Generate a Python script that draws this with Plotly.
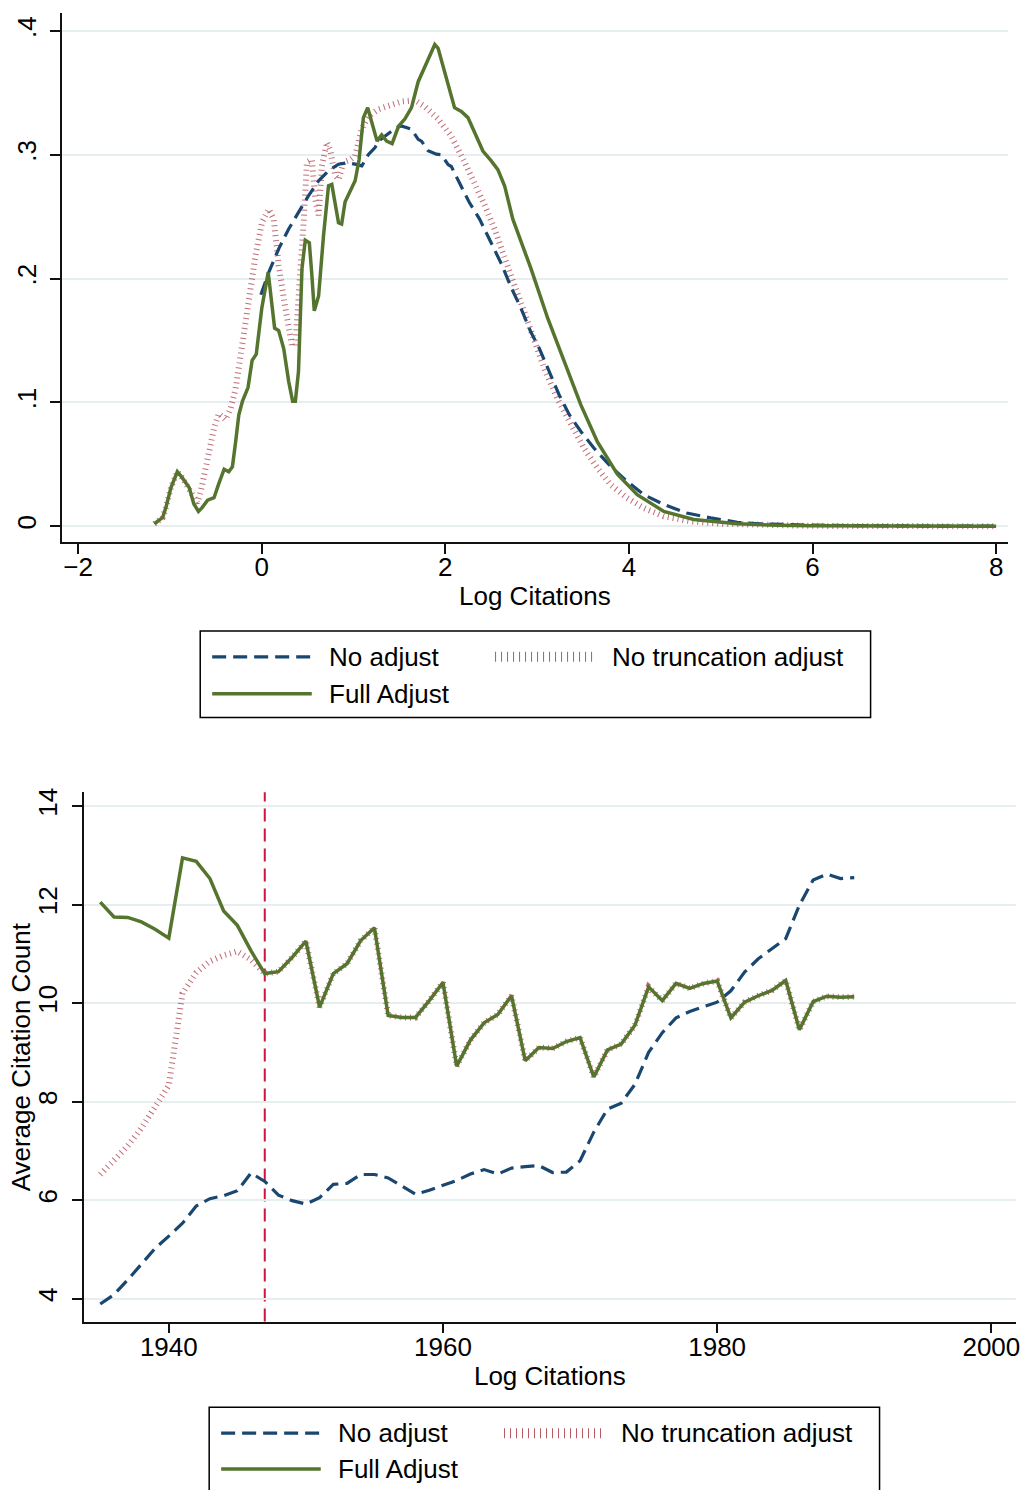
import plotly.graph_objects as go

# ---------------- Top panel: density of log citations ----------------
noadj_x = [-0.01, 0.076, 0.184, 0.293, 0.40, 0.51, 0.619, 0.727, 0.836, 0.93, 1.017, 1.09,
           1.16, 1.234, 1.27, 1.342, 1.414, 1.468, 1.52, 1.56, 1.63, 1.704, 1.74, 1.812,
           1.902, 1.957, 2.03, 2.065, 2.15, 2.26, 2.373, 2.39, 2.50, 2.61, 2.716, 2.825,
           2.93, 3.024, 3.133, 3.24, 3.35, 3.476, 3.62, 3.80, 3.98, 4.16, 4.38, 4.63,
           4.89, 5.18, 5.43, 6.0, 7.0, 8.0]
noadj_y = [0.187, 0.205, 0.224, 0.240, 0.2535, 0.267, 0.279, 0.287, 0.2924, 0.2935, 0.2924, 0.291,
           0.300, 0.3058, 0.311, 0.3152, 0.319, 0.322, 0.3233, 0.3225, 0.3206, 0.3125, 0.311, 0.3032,
           0.3005, 0.300, 0.292, 0.2905, 0.278, 0.2616, 0.248, 0.2455, 0.228, 0.212, 0.193, 0.1757,
           0.157, 0.1435, 0.1247, 0.106, 0.090, 0.0765, 0.063, 0.0483, 0.0362, 0.0255, 0.0175, 0.0107,
           0.0067, 0.0032, 0.0019, 0.0008, 0.0002, 0.0]

notrunc_x = [-1.17, -1.08, -1.045, -0.99, -0.92, -0.865, -0.756, -0.70, -0.665, -0.63, -0.593,
             -0.557, -0.521, -0.467, -0.395, -0.34, -0.285, -0.214, -0.141, -0.068, 0.003, 0.076,
             0.13, 0.184, 0.257, 0.329, 0.366, 0.42, 0.456, 0.492, 0.546, 0.583, 0.619, 0.655,
             0.709, 0.745, 0.80, 0.836, 0.89, 0.963, 1.017, 1.089, 1.16, 1.27, 1.378, 1.52,
             1.668, 1.776, 1.92, 2.065, 2.21, 2.355, 2.43, 2.536, 2.645, 2.753, 2.86, 2.97,
             3.08, 3.22, 3.37, 3.51, 3.657, 3.80, 3.98, 4.16, 4.38, 4.67, 5.03, 5.5, 6.0, 7.0, 8.0]
notrunc_y = [0.002, 0.007, 0.015, 0.031, 0.044, 0.039, 0.0255, 0.0188, 0.028, 0.039, 0.053,
             0.066, 0.079, 0.091, 0.086, 0.095, 0.111, 0.149, 0.184, 0.2187, 0.2455, 0.256,
             0.248, 0.2106, 0.176, 0.146, 0.146, 0.197, 0.2455, 0.294, 0.296, 0.264, 0.251, 0.291,
             0.310, 0.304, 0.283, 0.280, 0.294, 0.296, 0.299, 0.3206, 0.331, 0.3367, 0.339, 0.343,
             0.344, 0.339, 0.329, 0.315, 0.294, 0.272, 0.259, 0.240, 0.216, 0.1945, 0.173, 0.149,
             0.127, 0.103, 0.082, 0.063, 0.047, 0.0335, 0.0228, 0.0147, 0.008, 0.004, 0.0019, 0.0007,
             0.0003, 0.0001, 0.0]

full_x = [-1.17, -1.08, -1.045, -0.99, -0.92, -0.865, -0.79, -0.74, -0.69, -0.65, -0.59, -0.52,
          -0.47, -0.41, -0.36, -0.32, -0.285, -0.25, -0.21, -0.15, -0.105, -0.06, 0.0, 0.07,
          0.14, 0.184, 0.239, 0.293, 0.336, 0.366, 0.40, 0.438, 0.474, 0.518, 0.546, 0.572,
          0.619, 0.673, 0.727, 0.763, 0.836, 0.87, 0.908, 0.944, 1.017, 1.06, 1.107, 1.154,
          1.197, 1.256, 1.306, 1.36, 1.42, 1.49, 1.56, 1.631, 1.704, 1.758, 1.83, 1.885,
          1.921, 1.975, 2.03, 2.10, 2.174, 2.246, 2.319, 2.409, 2.50, 2.572, 2.645, 2.69,
          2.735, 2.933, 3.115, 3.296, 3.476, 3.657, 3.874, 4.09, 4.38, 4.706, 5.18, 5.61,
          6.0, 7.0, 8.0]
full_y = [0.002, 0.007, 0.015, 0.031, 0.044, 0.039, 0.031, 0.018, 0.012, 0.015, 0.021, 0.023,
          0.034, 0.046, 0.044, 0.048, 0.068, 0.090, 0.101, 0.112, 0.134, 0.139, 0.176, 0.205,
          0.160, 0.158, 0.1435, 0.117, 0.101, 0.101, 0.125, 0.208, 0.231, 0.229, 0.2025, 0.174,
          0.186, 0.235, 0.275, 0.276, 0.245, 0.244, 0.262, 0.268, 0.279, 0.296, 0.330, 0.338,
          0.326, 0.311, 0.316, 0.311, 0.309, 0.323, 0.329, 0.338, 0.359, 0.368, 0.381, 0.389,
          0.386, 0.372, 0.356, 0.338, 0.335, 0.330, 0.318, 0.303, 0.295, 0.288, 0.275, 0.262,
          0.248, 0.208, 0.168, 0.133, 0.098, 0.068, 0.042, 0.0255, 0.012, 0.0054, 0.0019, 0.0008,
          0.0004, 0.0001, 0.0]

top_xticks = [-2, 0, 2, 4, 6, 8]
top_yticks = [0, 0.1, 0.2, 0.3, 0.4]
top_ytick_text = ["0", ".1", ".2", ".3", ".4"]

# ---------------- Bottom panel: average citation count by year ----------------
years = list(range(1935, 1991))
avg_no_adjust = [3.89, 4.08, 4.38, 4.70, 5.02, 5.27, 5.53, 5.88, 6.03, 6.09, 6.19, 6.55,
                 6.38, 6.10, 5.99, 5.92, 6.05, 6.32, 6.34, 6.52, 6.52, 6.45, 6.28, 6.12,
                 6.20, 6.30, 6.40, 6.53, 6.62, 6.53, 6.65, 6.68, 6.70, 6.56, 6.57, 6.80,
                 7.38, 7.85, 7.97, 8.35, 9.00, 9.40, 9.70, 9.83, 9.93, 10.02, 10.25, 10.63,
                 10.90, 11.10, 11.31, 11.99, 12.50, 12.62, 12.53, 12.55]
avg_no_truncation = [6.52, 6.82, 7.10, 7.46, 7.90, 8.33, 10.20, 10.62, 10.85, 10.97, 11.05, 10.88,
                     10.60, 10.64, 10.93, 11.26, 9.92, 10.60, 10.80, 11.27, 11.53, 9.75, 9.71, 9.71,
                     10.05, 10.42, 8.72, 9.25, 9.60, 9.77, 10.15, 8.83, 9.10, 9.08, 9.22, 9.30,
                     8.50, 9.05, 9.17, 9.55, 10.33, 10.05, 10.40, 10.30, 10.40, 10.45, 9.70, 10.02,
                     10.15, 10.26, 10.46, 9.46, 10.03, 10.14, 10.12, 10.13]
avg_full = [12.05, 11.75, 11.74, 11.65, 11.50, 11.32, 12.95, 12.88, 12.53, 11.87, 11.58, 11.06,
            10.60, 10.64, 10.93, 11.26, 9.92, 10.60, 10.80, 11.27, 11.53, 9.75, 9.71, 9.71,
            10.05, 10.42, 8.72, 9.25, 9.60, 9.77, 10.15, 8.83, 9.10, 9.08, 9.22, 9.30,
            8.50, 9.05, 9.17, 9.55, 10.33, 10.05, 10.40, 10.30, 10.40, 10.45, 9.70, 10.02,
            10.15, 10.26, 10.46, 9.46, 10.03, 10.14, 10.12, 10.13]
cutoff_year = 1947

bot_xticks = [1940, 1960, 1980, 2000]
bot_yticks = [4, 6, 8, 10, 12, 14]

series_names = ["No adjust", "No truncation adjust", "Full Adjust"]

# ---------------- styles ----------------
W, H = 1024, 1490
FONT = "Liberation Sans, Arial, sans-serif"
NAVY = "#1a476f"
MAROON = "rgba(165,45,60,0.7)"
GREEN = "#55752f"
GRID = "#e6eef0"
VLINE = "#cc1540"

style_noadj = dict(color=NAVY, width=3.2, dash="14px,7px")
style_notrunc = dict(color=MAROON, width=6, dash="1px,4px")
style_notrunc_leg = dict(color="rgba(165,45,60,0.8)", width=10, dash="1px,5px")
style_full = dict(color=GREEN, width=3.5)


def px(x):
    return x / W


def py(y):
    return 1 - y / H


fig = go.Figure()

# top panel traces
fig.add_trace(go.Scatter(x=notrunc_x, y=notrunc_y, mode="lines", line=style_notrunc,
                         name=series_names[1], xaxis="x", yaxis="y", showlegend=False))
fig.add_trace(go.Scatter(x=noadj_x, y=noadj_y, mode="lines", line=style_noadj,
                         name=series_names[0], xaxis="x", yaxis="y", showlegend=False))
fig.add_trace(go.Scatter(x=full_x, y=full_y, mode="lines", line=style_full,
                         name=series_names[2], xaxis="x", yaxis="y", showlegend=False))

# bottom panel traces
fig.add_trace(go.Scatter(x=years, y=avg_no_truncation, mode="lines", line=style_notrunc,
                         name=series_names[1], xaxis="x2", yaxis="y2", showlegend=False))
fig.add_trace(go.Scatter(x=years, y=avg_no_adjust, mode="lines", line=style_noadj,
                         name=series_names[0], xaxis="x2", yaxis="y2", showlegend=False))
fig.add_trace(go.Scatter(x=years, y=avg_full, mode="lines", line=style_full,
                         name=series_names[2], xaxis="x2", yaxis="y2", showlegend=False))

axis_common = dict(
    showline=True, linecolor="#111", linewidth=1.5,
    ticks="outside", ticklen=10, tickwidth=1.5, tickcolor="#111",
    tickfont=dict(family=FONT, size=26, color="#000"),
    zeroline=False, mirror=False, ticklabeloverflow="allow",
)

fig.update_layout(
    width=W, height=H,
    margin=dict(l=0, r=0, t=0, b=0),
    paper_bgcolor="white", plot_bgcolor="white",
    font=dict(family=FONT, size=26, color="#000"),
    showlegend=False,
    xaxis=dict(axis_common, domain=[px(62), px(1012)], range=[-2.179, 8.13],
               tickvals=top_xticks, showgrid=False, anchor="y", ticklabelstandoff=-9,
               title=dict(text="Log Citations", font=dict(family=FONT, size=26), standoff=6)),
    yaxis=dict(axis_common, domain=[py(539), py(8)], range=[-0.0129, 0.4145],
               tickvals=top_yticks, ticktext=top_ytick_text, tickangle=-90,
               showgrid=True, gridcolor=GRID, gridwidth=2, anchor="x",
               ticklabelstandoff=4),
    xaxis2=dict(axis_common, domain=[px(84), px(1020)], range=[1933.79, 2001.8],
                tickvals=bot_xticks, showgrid=False, anchor="y2", ticklabelstandoff=-9,
                title=dict(text="Log Citations", font=dict(family=FONT, size=26), standoff=6)),
    yaxis2=dict(axis_common, domain=[py(1321), py(790)], range=[3.534, 14.28],
                tickvals=bot_yticks, tickangle=-90,
                showgrid=True, gridcolor=GRID, gridwidth=2, anchor="x2",
                ticklabelstandoff=5),
)

shapes = []
annotations = []

# y-axis title of the bottom panel
annotations.append(dict(xref="paper", yref="paper", x=px(22), y=py(1055),
                        xanchor="center", yanchor="middle", textangle=-90, showarrow=False,
                        text="Average Citation Count", font=dict(family=FONT, size=26, color="#000")))

# vertical cutoff line in bottom panel
shapes.append(dict(type="line", xref="x2", yref="y2 domain", x0=cutoff_year, x1=cutoff_year,
                   y0=0, y1=1, line=dict(color=VLINE, width=2, dash="13px,7px"), layer="below"))


def add_legend(box, rows):
    x0, y0, x1, y1 = box
    shapes.append(dict(type="rect", xref="paper", yref="paper",
                       x0=px(x0), x1=px(x1), y0=py(y1), y1=py(y0),
                       line=dict(color="#000", width=1.5), fillcolor="rgba(0,0,0,0)"))
    for (lx, ly, style, label) in rows:
        shapes.append(dict(type="line", xref="paper", yref="paper",
                           x0=px(lx), x1=px(lx + 100), y0=py(ly), y1=py(ly),
                           line=style))
        annotations.append(dict(xref="paper", yref="paper", x=px(lx + 115), y=py(ly),
                                xanchor="left", yanchor="middle", showarrow=False,
                                text=label, font=dict(family=FONT, size=26, color="#000")))


add_legend((201, 628, 874, 715), [
    (213, 654, style_noadj, series_names[0]),
    (497, 654, style_notrunc_leg, series_names[1]),
    (213, 691, style_full, series_names[2]),
])
add_legend((210, 1407, 883, 1496), [
    (222, 1433, style_noadj, series_names[0]),
    (506, 1433, style_notrunc_leg, series_names[1]),
    (222, 1469, style_full, series_names[2]),
])

fig.update_layout(shapes=shapes, annotations=annotations)

fig.write_html("out.html")
